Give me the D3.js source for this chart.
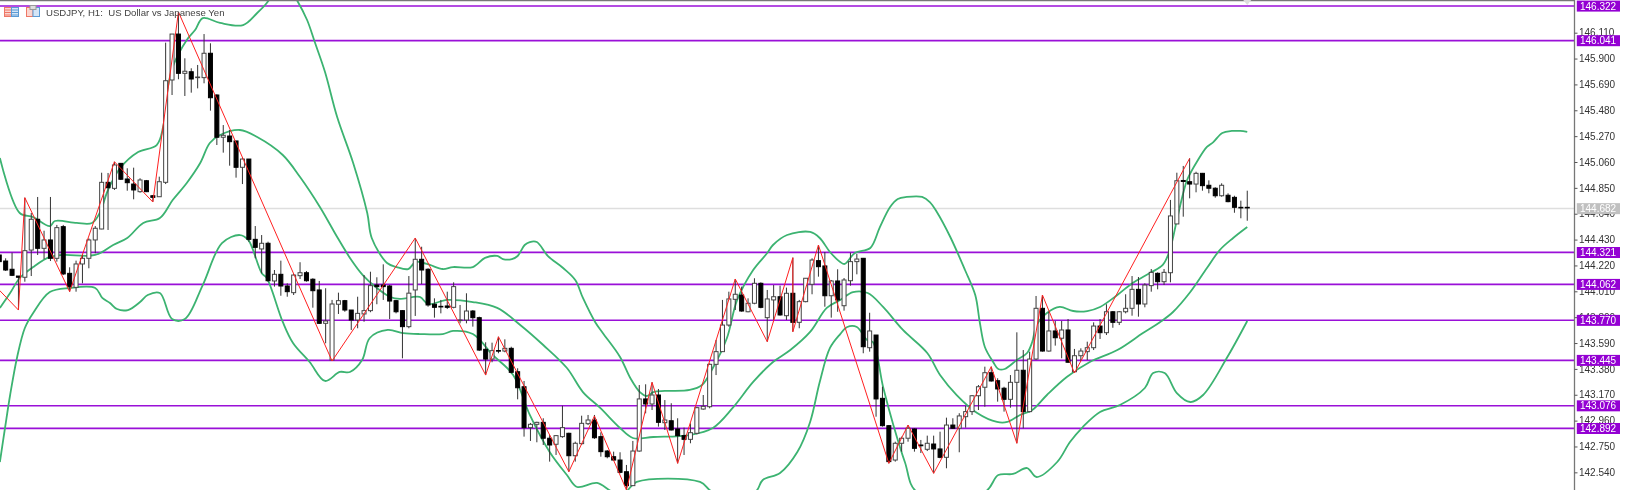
<!DOCTYPE html>
<html><head><meta charset="utf-8">
<style>
html,body{margin:0;padding:0;background:#fff;overflow:hidden}
svg{display:block;filter:blur(0.4px)}
text{font-family:"Liberation Sans",Arial,sans-serif}
</style>
<script src="https://cdn.jsdelivr.net/npm/d3@7/dist/d3.min.js"></script>
</head><body><svg id="chart" width="1627" height="490"></svg>
<script>
const chartTitle = "USDJPY, H1:  US Dollar vs Japanese Yen";
const tickLabels = [146.11,145.9,145.69,145.48,145.27,145.06,144.85,144.64,144.43,144.22,144.01,143.8,143.59,143.38,143.17,142.96,142.75,142.54];
const levels = [146.322,146.041,144.321,144.062,143.770,143.445,143.076,142.892];
const lastPrice = 144.682;

const bodyTops = [
144.305,144.256,144.189,144.134,144.340,144.595,144.595,144.427,144.427,144.527,
144.535,144.156,144.232,144.278,144.427,144.522,144.895,144.895,145.036,145.049,
144.922,144.881,144.914,144.908,144.786,144.900,145.720,146.099,146.099,145.797,
145.793,145.750,145.943,145.943,145.604,145.277,145.271,145.231,145.084,145.084,
144.432,144.400,144.400,144.148,144.148,144.053,144.142,144.161,144.161,144.108,
144.021,143.769,143.907,143.934,143.934,143.858,143.831,143.853,144.056,144.061,
144.061,144.053,143.934,143.853,143.995,144.270,144.270,144.189,143.905,143.888,
143.891,144.048,143.777,143.850,143.850,143.796,143.539,143.528,143.529,143.547,
143.547,143.357,143.235,142.930,142.946,142.946,142.817,142.838,142.903,142.857,
142.776,142.938,142.965,142.965,142.830,142.713,142.667,142.640,142.545,142.713,
143.136,143.136,143.168,143.168,142.965,142.959,142.892,142.838,142.862,143.065,
143.076,143.417,143.520,143.736,143.948,143.986,143.980,143.913,144.075,144.075,
143.948,143.966,143.966,143.994,143.994,143.926,144.116,144.264,144.259,144.216,
144.094,144.094,144.102,144.251,144.272,144.278,143.688,143.655,143.141,142.919,
142.776,142.817,142.898,142.892,142.762,142.776,142.770,142.730,142.924,142.924,
142.998,143.033,143.162,143.235,143.349,143.349,143.284,143.223,143.271,143.369,
143.369,143.460,143.872,143.872,143.688,143.688,143.696,143.696,143.487,143.525,
143.552,143.728,143.728,143.844,143.844,143.844,143.872,144.026,144.026,144.061,
144.164,144.156,144.164,144.622,144.908,144.910,144.900,144.968,144.968,144.871,
144.847,144.871,144.790,144.773,144.692,144.692];
const bodyBottoms = [
144.251,144.183,144.140,144.124,144.124,144.345,144.359,144.359,144.278,144.278,
144.151,144.048,144.042,144.232,144.278,144.427,144.516,144.851,144.846,144.920,
144.892,144.833,144.819,144.819,144.773,144.778,144.895,145.726,145.780,145.780,
145.734,145.745,145.745,145.582,145.261,145.261,145.225,145.017,145.017,144.432,
144.367,144.354,144.096,144.094,144.053,144.007,143.999,144.137,144.096,144.015,
143.750,143.750,143.452,143.905,143.858,143.777,143.777,143.826,143.853,144.048,
144.048,143.931,143.844,143.723,143.723,144.021,144.183,143.899,143.880,143.883,
143.880,143.880,143.772,143.777,143.796,143.533,143.460,143.460,143.524,143.525,
143.352,143.227,142.903,142.903,142.930,142.817,142.762,142.768,142.830,142.675,
142.675,142.773,142.935,142.821,142.708,142.667,142.640,142.540,142.432,142.432,
142.713,143.095,143.095,142.946,142.943,142.884,142.838,142.808,142.808,142.857,
143.054,143.073,143.417,143.520,143.736,143.945,143.850,143.844,143.913,143.880,
143.796,143.940,143.818,143.812,143.758,143.758,143.926,144.067,144.210,143.974,
143.974,143.940,143.893,144.096,144.251,143.560,143.552,143.136,142.919,142.627,
142.640,142.776,142.817,142.735,142.756,142.727,142.730,142.662,142.662,142.898,
142.898,142.992,143.033,143.162,143.231,143.282,143.217,143.133,143.133,143.271,
143.033,143.033,143.460,143.525,143.525,143.633,143.629,143.434,143.357,143.487,
143.520,143.552,143.674,143.674,143.758,143.758,143.844,143.872,143.907,143.907,
144.056,144.088,144.088,144.161,144.557,144.902,144.881,144.881,144.868,144.847,
144.786,144.786,144.738,144.692,144.688,144.688];
const wickHighs = [
144.345,144.278,144.324,144.134,144.770,144.646,144.776,144.502,144.776,144.549,
144.549,144.205,144.259,144.305,144.440,144.540,144.973,144.971,145.062,145.052,
145.009,145.014,144.928,144.914,144.792,144.941,146.029,146.099,146.278,145.902,
145.821,145.848,146.099,146.024,145.610,145.360,145.320,145.231,145.098,145.084,
144.540,144.467,144.413,144.183,144.259,144.075,144.151,144.246,144.175,144.116,
144.094,144.035,143.940,143.999,143.940,143.858,143.966,144.142,144.169,144.124,
144.229,144.061,143.940,143.858,144.134,144.443,144.372,144.197,143.953,143.940,
144.007,144.083,143.899,143.994,143.858,143.804,143.596,143.593,143.641,143.620,
143.560,143.385,143.282,142.941,142.951,142.979,142.843,142.843,143.081,142.862,
142.789,143.000,143.006,143.006,142.865,142.721,142.708,142.703,142.600,142.795,
143.249,143.255,143.271,143.217,143.127,143.101,142.979,142.903,142.938,143.073,
143.168,143.425,143.615,143.940,144.007,144.110,144.048,143.953,144.116,144.083,
144.021,144.061,144.056,144.040,144.283,143.940,144.118,144.278,144.386,144.329,
144.102,144.189,144.118,144.324,144.313,144.281,143.836,143.655,143.235,142.924,
142.789,142.830,142.924,142.898,142.803,142.838,142.838,142.870,142.984,142.979,
143.020,143.079,143.168,143.249,143.398,143.398,143.304,143.235,143.330,143.677,
143.533,143.520,143.972,143.980,143.844,143.769,143.769,143.785,143.542,143.547,
143.601,143.758,143.785,143.905,143.850,143.850,143.986,144.134,144.126,144.075,
144.191,144.164,144.191,144.752,144.973,145.028,145.090,144.981,144.971,144.911,
144.855,144.887,144.806,144.786,144.746,144.827];
const wickLows = [
144.240,144.175,144.134,143.858,144.088,144.134,144.305,144.272,144.256,144.251,
144.142,144.007,144.007,144.075,144.197,144.319,144.514,144.508,144.833,144.914,
144.827,144.757,144.811,144.816,144.738,144.776,144.881,145.604,145.732,145.596,
145.623,145.658,145.699,145.477,145.198,145.136,145.030,144.933,144.881,144.413,
144.278,144.156,144.088,144.048,143.974,143.966,143.980,144.110,144.088,143.877,
143.745,143.588,143.444,143.826,143.844,143.696,143.710,143.763,143.840,143.905,
143.940,143.785,143.831,143.466,143.710,143.810,144.069,143.885,143.796,143.831,
143.866,143.872,143.750,143.750,143.723,143.525,143.330,143.434,143.507,143.515,
143.344,143.133,142.830,142.795,142.784,142.762,142.627,142.681,142.821,142.545,
142.627,142.762,142.924,142.811,142.667,142.654,142.632,142.532,142.397,142.429,
142.708,143.019,143.046,142.911,142.884,142.880,142.613,142.681,142.776,142.849,
143.049,143.060,143.330,143.517,143.723,143.858,143.844,143.840,143.905,143.872,
143.601,143.777,143.812,143.777,143.682,143.710,143.921,143.986,144.129,143.885,
143.796,143.844,143.853,144.056,144.148,143.507,143.520,142.992,142.911,142.613,
142.627,142.708,142.789,142.708,142.697,142.713,142.532,142.654,142.573,142.892,
142.703,142.903,143.006,143.046,143.073,143.276,143.114,143.033,143.065,142.776,
142.898,143.028,143.452,143.520,143.520,143.569,143.466,143.430,143.347,143.444,
143.452,143.533,143.623,143.655,143.714,143.736,143.831,143.812,143.804,143.880,
144.007,144.026,144.061,144.083,144.557,144.616,144.765,144.814,144.827,144.806,
144.770,144.778,144.733,144.648,144.603,144.583];
const risingBars = [4,5,7,9,12,13,14,15,16,18,22,25,26,27,29,31,32,35,38,41,43,46,47,51,52,53,56,57,58,64,65,71,72,73,77,79,83,84,87,88,90,91,92,99,100,102,104,108,109,110,111,112,113,114,115,117,118,120,121,123,125,126,127,130,132,133,134,136,140,141,142,145,148,150,151,152,153,154,158,159,161,162,164,166,168,169,170,171,173,175,176,177,179,180,182,183,184,187,191];

const upperBars = [0.1,3.2,5.3,7.9,8.7,12.1,14.5,15.7,17,18.9,21.7,24.6,25.6,26.2,27.1,29.3,30.6,31.8,34.5,38.1,40.3,41.8,42.6,44.3,45.7,46.5,48.1,49.3,50.9,52.8,55.3,57.5,58.2,60.6,62.1,63.9,65,65.7,67.3,69.3,70.9,74,75.9,77.8,78.7,80.1,81,82.1,82.9,84,85.7,88.1,90,91.2,93.1,94.3,97,98.6,100.1,101.2,102.2,104,107.9,109.8,111.5,113.7,115.3,117.8,120,120.9,123.1,126.7,128.2,129.8,131.4,132.1,133.7,136.1,137.6,139.2,140.4,141.8,144.2,145.4,146.5,148.6,150.9,152.5,153.2,154,155.3,156.1,157.1,159,160.6,161.4,162.1,163.7,165.7,167.8,170,172,174.7,177.1,179.8,181.8,182.9,184,185,185.6,187.3,188.7,189.7,191.1,192.6,193.9,195];
const upperValues = [145.093,144.646,144.613,144.54,144.581,144.565,144.565,144.646,144.833,145.011,145.141,145.198,145.344,145.62,145.831,146.051,146.132,146.229,146.189,146.172,146.27,146.351,146.416,146.578,146.44,146.376,146.213,146.034,145.791,145.425,145.052,144.646,144.443,144.24,144.207,144.191,144.248,144.248,144.224,144.191,144.207,144.207,144.281,144.297,144.272,144.272,144.297,144.386,144.41,144.41,144.297,144.199,144.102,143.956,143.761,143.672,143.477,143.306,143.192,143.16,143.192,143.201,143.209,143.249,143.387,143.631,143.94,144.183,144.321,144.386,144.467,144.492,144.443,144.329,144.248,144.232,144.321,144.362,144.532,144.695,144.76,144.776,144.776,144.735,144.654,144.451,144.183,143.98,143.761,143.558,143.436,143.379,143.379,143.452,143.509,143.598,143.737,143.834,143.883,143.85,143.85,143.883,143.98,144.078,144.159,144.224,144.345,144.589,144.808,144.914,145.076,145.182,145.222,145.296,145.312,145.312,145.304];
const middleBars = [0.1,1.7,3.2,5.3,7.9,10,15,17.8,20,22.5,25.1,27.1,29.3,31.4,32.9,34.5,37.6,40.3,44.3,47,50.1,52.8,54.8,56.8,59,61.1,62.6,65.7,67,70,74,77.8,81.4,85,88.7,91.2,93.9,97,99,102.2,107.9,111.5,114.6,117.8,120.9,123.6,126.7,129.3,131.4,133.4,135.7,138.1,141.2,145,147,149.6,152.8,155.9,157.5,159.5,161.4,163.7,166.8,170.4,174.7,178.7,181.4,183.4,186.1,188.7,190.7,192.8,195];
const middleValues = [143.875,143.996,144.118,144.207,144.289,144.305,144.305,144.386,144.443,144.565,144.605,144.751,144.89,145.052,145.214,145.279,145.32,145.263,145.117,144.938,144.695,144.451,144.281,144.142,144.037,143.964,143.948,143.964,143.907,143.94,143.923,143.875,143.737,143.574,143.387,143.192,143.063,142.9,142.819,142.827,142.843,142.9,143.063,143.274,143.436,143.533,143.68,143.875,143.94,144.004,143.996,143.883,143.696,143.509,143.331,143.168,143.022,142.949,142.949,143.006,143.046,143.168,143.314,143.436,143.533,143.671,143.761,143.842,144.004,144.199,144.345,144.443,144.532];
const lowerBars = [0.1,0.9,1.7,2.8,4,5.3,7.9,11,15,16.1,17.3,18.4,20.1,22,23.2,25.1,27,29,31.8,34.8,37.6,38.9,41,41.8,44.3,45.9,48.5,50.9,53.2,54.8,56.7,57.9,60.7,63.1,65.7,69.3,70.9,74,77.1,80.3,82.9,86,88.7,90.3,93.4,95.9,97.8,99.6,109.5,111.5,118.1,119.3,122,124.7,126.7,128.2,129.8,131.4,132.5,134,135.6,136.5,138.1,139.7,141.5,143.4,154,156.1,158.4,160.6,162.1,165.3,167.3,169.3,172,175.1,179,180.3,182.1,184,186.1,188.1,191.8,195];
const lowerValues = [142.624,142.9,143.168,143.477,143.712,143.834,144.004,144.037,144.037,143.956,143.915,143.866,143.858,143.923,143.98,143.996,143.785,143.785,144.061,144.402,144.467,144.427,144.159,144.118,143.761,143.59,143.436,143.282,143.355,143.355,143.452,143.631,143.696,143.671,143.663,143.663,143.688,143.663,143.493,143.33,143.006,142.705,142.518,142.421,142.454,142.381,142.381,142.462,142.462,142.381,142.381,142.478,142.535,142.705,142.949,143.274,143.55,143.663,143.72,143.72,143.615,143.598,143.233,142.925,142.624,142.381,142.381,142.518,142.527,142.575,142.502,142.624,142.786,142.908,143.03,143.087,143.225,143.347,143.347,143.184,143.111,143.168,143.468,143.769];

const zigzagBars = [0,3,4,11,18,24,28,52,65,76,78,89,93,98,102,106,115,120,124,124,128,139,142,146,155,159,163,168,186];
const zigzagValues = [144.02,143.858,144.770,144.007,145.062,144.735,146.278,143.444,144.443,143.330,143.641,142.545,142.998,142.397,143.271,142.613,144.110,143.601,144.283,143.682,144.386,142.613,142.924,142.532,143.398,142.776,143.980,143.347,145.090];

const W = 1627, H = 490, axisX = 1574.5;
const x = d3.scaleLinear().domain([0,195]).range([-0.75,1247.25]);
const y = d3.scaleLinear().domain([146.3755,142.4]).range([0,(146.3755-142.4)*123.15]);
const svg = d3.select("#chart");
svg.append("rect").attr("width",W).attr("height",H).attr("fill","#fff");
svg.append("clipPath").attr("id","plot").append("rect").attr("x",0).attr("y",0).attr("width",axisX).attr("height",H);
const plot = svg.append("g").attr("clip-path","url(#plot)");

// price line and horizontal levels
plot.append("line").attr("x1",0).attr("x2",axisX).attr("y1",y(lastPrice)).attr("y2",y(lastPrice)).attr("stroke","#dedede").attr("stroke-width",1.4);
plot.append("g").attr("transform","translate(0,-0.6)").selectAll("line").data(levels).join("line")
  .attr("x1",0).attr("x2",axisX).attr("y1",d=>y(d)).attr("y2",d=>y(d))
  .attr("stroke","#9a10d8").attr("stroke-width",1.7);

// Bollinger bands
const straight = d3.line().x(d=>x(d[0])).y(d=>y(d[1]));
const bandLine = d3.line().x(d=>x(d[0])).y(d=>y(d[1])).curve(d3.curveCatmullRom.alpha(0.5));
[[upperBars,upperValues],[middleBars,middleValues],[lowerBars,lowerValues]].forEach(([b,v])=>{
  plot.append("path").attr("d",bandLine(d3.zip(b,v))).attr("fill","none").attr("stroke","#3CB371").attr("stroke-width",1.8).attr("stroke-linejoin","round");
});

// candles
const rising = new Set(risingBars);
const bars = d3.range(bodyTops.length);
plot.append("g").selectAll("line").data(bars).join("line")
  .attr("x1",i=>x(i)).attr("x2",i=>x(i)).attr("y1",i=>y(wickHighs[i])).attr("y2",i=>y(wickLows[i]))
  .attr("stroke","#333").attr("stroke-width",1);
plot.append("g").selectAll("rect").data(bars).join("rect")
  .attr("x",i=>x(i)-2).attr("width",4)
  .attr("y",i=>y(bodyTops[i])).attr("height",i=>Math.max(0.6,y(bodyBottoms[i])-y(bodyTops[i])))
  .attr("fill",i=>rising.has(i)?"#fff":"#000").attr("stroke",i=>rising.has(i)?"#444":"#000").attr("stroke-width",1);

// zigzag
plot.append("path").attr("d",straight(d3.zip(zigzagBars,zigzagValues))).attr("fill","none").attr("stroke","#ff2020").attr("stroke-width",1);

// axis
svg.append("line").attr("x1",0).attr("x2",axisX).attr("y1",0.5).attr("y2",0.5).attr("stroke","#777").attr("stroke-width",1.4);
svg.append("line").attr("x1",axisX).attr("x2",axisX).attr("y1",0).attr("y2",H).attr("stroke","#777").attr("stroke-width",1.3);
const axis = d3.axisRight(y).tickValues(tickLabels).tickFormat(d3.format(".3f")).tickSize(3).tickPadding(1.5);
const axG = svg.append("g").attr("transform",`translate(${axisX},0)`).call(axis);
axG.select(".domain").remove();
axG.selectAll("line").attr("stroke","#555");
axG.selectAll("text").attr("fill","#333").style("font-size","10px").style("font-family",'"Liberation Sans",Arial,sans-serif');

// value tags
function tag(value, fill, off){
  const yy = y(value)+off;
  svg.append("rect").attr("x",1576.8).attr("y",yy-5.4).attr("width",43.2).attr("height",11).attr("fill",fill);
  svg.append("text").attr("x",1580).attr("y",yy+3.7).attr("fill","#fff").style("font-size","10px").text(d3.format(".3f")(value));
}
tag(lastPrice,"#c0c0c0",0);
levels.forEach(v=>tag(v,"#9400d3",-0.6));

// shift marker
svg.append("path").attr("d",d3.line()([[x(195)-4,0],[x(195)+4,0],[x(195),5]])).attr("fill","#ddd");

// header icons
const icon = svg.append("g");
icon.append("rect").attr("x",4.5).attr("y",7.5).attr("width",7).attr("height",9).attr("fill","#fbd5cf").attr("stroke","#ee7766");
[10,12.5,15].forEach(v=>icon.append("line").attr("x1",4.5).attr("x2",11.5).attr("y1",v).attr("y2",v).attr("stroke","#ee7766"));
icon.append("rect").attr("x",11.5).attr("y",7.5).attr("width",7).attr("height",9).attr("fill","#d5e5f6").attr("stroke","#5b9bd5");
[10,12.5,15].forEach(v=>icon.append("line").attr("x1",11.5).attr("x2",18.5).attr("y1",v).attr("y2",v).attr("stroke","#5b9bd5"));
icon.append("rect").attr("x",26.5).attr("y",7.5).attr("width",6.5).attr("height",9).attr("fill","#fbd5cf").attr("stroke","#ee7766");
icon.append("rect").attr("x",33).attr("y",7.5).attr("width",6.5).attr("height",9).attr("fill","#d5e5f6").attr("stroke","#5b9bd5");
icon.append("rect").attr("x",30).attr("y",5.5).attr("width",6).attr("height",4).attr("fill","#ddd").attr("stroke","#999");

svg.append("text").attr("x",46).attr("y",16).attr("fill","#444").style("font-size","9.6px").style("white-space","pre").text(chartTitle);
</script></body></html>
